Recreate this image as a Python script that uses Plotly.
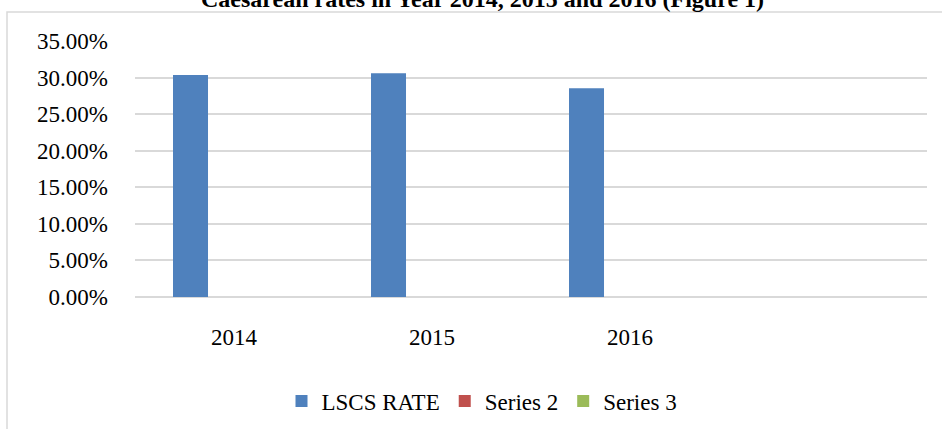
import plotly.graph_objects as go

categories = ["2014", "2015", "2016"]
lscs_rate = [0.3036, 0.3059, 0.2854]
series2 = [0, 0, 0]
series3 = [0, 0, 0]
series_names = ["LSCS RATE", "Series 2", "Series 3"]
colors = ["#4f81bd", "#c0504d", "#9bbb59"]
title_text = "Caesarean rates in Year 2014, 2015 and 2016 (Figure 1)"

FONT = "Liberation Serif"

fig = go.Figure()
for name, vals, col in zip(series_names, [lscs_rate, series2, series3], colors):
    fig.add_trace(go.Bar(
        x=categories, y=vals, name=name,
        marker=dict(color=col, line=dict(width=0)),
        hoverinfo="skip",
    ))

fig.update_layout(
    width=942, height=429,
    margin=dict(l=135, r=15, t=41, b=132, pad=0, autoexpand=False),
    paper_bgcolor="white", plot_bgcolor="white",
    barmode="group", bargap=0.341, bargroupgap=0.195,
    font=dict(family=FONT, size=23, color="#000000"),
    showlegend=True,
    legend=dict(orientation="h", x=(482-135)/792, xanchor="center",
                y=(297-401)/256, yanchor="middle",
                font=dict(family=FONT, size=23, color="#000000"),
                bgcolor="rgba(0,0,0,0)", traceorder="normal"),
)

# title (partially cut off at the top in the reference)
fig.add_annotation(text="<b>" + title_text + "</b>", xref="paper", yref="paper",
                   x=(482-135)/792, xanchor="center",
                   y=(297+1)/256, yanchor="middle", showarrow=False,
                   font=dict(family=FONT, size=24, color="#000000"))

fig.update_xaxes(type="category", range=[-0.5, 3.5], showgrid=False,
                 showline=False, zeroline=False, ticks="",
                 ticklabelstandoff=24,
                 tickfont=dict(family=FONT, size=23, color="#000000"))
fig.update_yaxes(range=[0, 0.35], dtick=0.05, tick0=0, tickformat=".2%",
                 showgrid=True, gridcolor="#d9d9d9", gridwidth=1.5,
                 zeroline=True, zerolinecolor="#d9d9d9", zerolinewidth=1.5,
                 showline=False, ticks="", ticklabelstandoff=26,
                 tickfont=dict(family=FONT, size=23, color="#000000"))

# outer chart-area border (partially cropped in the reference)
fig.add_shape(type="rect", xref="paper", yref="paper",
              x0=(7-135)/792, x1=1.2, y0=-1.0, y1=(297-12)/256,
              line=dict(color="#d9d9d9", width=1.5), fillcolor="rgba(0,0,0,0)",
              layer="below")

fig.write_html("out.html", config={"displayModeBar": False},
               post_script="document.body.style.margin='0';document.body.style.overflow='hidden';")
